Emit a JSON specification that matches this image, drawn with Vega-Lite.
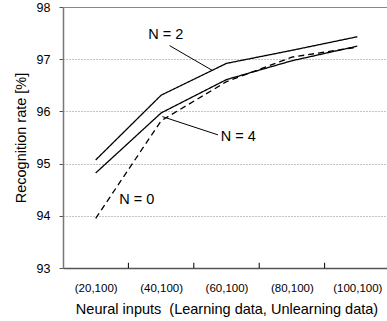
{
  "$schema": "https://vega.github.io/schema/vega-lite/v6.json",
  "width": 327,
  "height": 261,
  "autosize": {"type": "none"},
  "padding": {"left": 63, "top": 7, "right": 0, "bottom": 53},
  "background": "white",
  "config": {"view": {"stroke": null}, "font": "Liberation Sans"},
  "encoding": {
    "x": {
      "field": "inputs", "type": "quantitative",
      "scale": {"domain": [10, 110], "nice": false, "zero": false},
      "axis": {
        "values": [10, 20, 30, 40, 50, 60, 70, 80, 90, 100, 110],
        "labelExpr": "datum.value % 20 == 0 ? '(' + datum.value + ',100)' : ''",
        "tickOpacity": 0,
        "tickColor": "#333",
        "tickSize": -5,
        "domainColor": "#555",
        "domainWidth": 1.5,
        "grid": false,
        "labelFontSize": 11.5,
        "labelColor": "#000",
        "labelPadding": 19,
        "labelOverlap": false,
        "labelFlush": false,
        "labelBound": false,
        "title": "Neural inputs\u00a0\u00a0(Learning data, Unlearning data)",
        "titleFontSize": 14.5,
        "titleFontWeight": "normal",
        "titleColor": "#000",
        "titlePadding": 9
      }
    },
    "y": {
      "field": "rate", "type": "quantitative",
      "scale": {"domain": [93, 98], "nice": false, "zero": false},
      "axis": {
        "values": [93, 94, 95, 96, 97, 98],
        "grid": true,
        "gridDash": {"condition": {"test": "datum.value == 98", "value": []}, "value": [1, 2]},
        "gridColor": "#888",
        "gridWidth": 1,
        "domainColor": "#777",
        "domainWidth": 1.5,
        "tickSize": 4,
        "tickColor": "#555",
        "labelFontSize": 12.5,
        "labelColor": "#000",
        "labelPadding": 9,
        "title": "Recognition rate [%]",
        "titleFontSize": 14.5,
        "titleFontWeight": "normal",
        "titleColor": "#000",
        "titlePadding": 8
      }
    }
  },
  "layer": [
    {
      "data": {"values": [
        {"series": "N = 2", "inputs": 20, "rate": 95.07},
        {"series": "N = 2", "inputs": 40, "rate": 96.31},
        {"series": "N = 2", "inputs": 60, "rate": 96.92},
        {"series": "N = 2", "inputs": 80, "rate": 97.17},
        {"series": "N = 2", "inputs": 100, "rate": 97.43},
        {"series": "N = 4", "inputs": 20, "rate": 94.82},
        {"series": "N = 4", "inputs": 40, "rate": 95.97},
        {"series": "N = 4", "inputs": 60, "rate": 96.61},
        {"series": "N = 4", "inputs": 80, "rate": 96.97},
        {"series": "N = 4", "inputs": 100, "rate": 97.25},
        {"series": "N = 0", "inputs": 20, "rate": 93.95},
        {"series": "N = 0", "inputs": 40, "rate": 95.82},
        {"series": "N = 0", "inputs": 60, "rate": 96.57},
        {"series": "N = 0", "inputs": 80, "rate": 97.04},
        {"series": "N = 0", "inputs": 100, "rate": 97.23}
      ]},
      "mark": {"type": "line", "color": "black"},
      "encoding": {
        "detail": {"field": "series"},
        "strokeDash": {
          "field": "series", "type": "nominal",
          "scale": {"domain": ["N = 2", "N = 4", "N = 0"], "range": [[1, 0], [1, 0], [6, 4]]},
          "legend": null
        },
        "strokeWidth": {
          "field": "series", "type": "nominal",
          "scale": {"domain": ["N = 2", "N = 4", "N = 0"], "range": [1.3, 1.3, 1.8]},
          "legend": null
        }
      }
    },
    {
      "data": {"values": [
        {"inputs": 42.6, "rate": 97.26, "inputs_end": 55.8, "rate_end": 96.78},
        {"inputs": 40.4, "rate": 95.90, "inputs_end": 57.4, "rate_end": 95.55},
        {"inputs": 30, "rate": 93, "inputs_end": 30, "rate_end": 93.1},
        {"inputs": 50, "rate": 93, "inputs_end": 50, "rate_end": 93.1},
        {"inputs": 70, "rate": 93, "inputs_end": 70, "rate_end": 93.1},
        {"inputs": 90, "rate": 93, "inputs_end": 90, "rate_end": 93.1}
      ]},
      "mark": {"type": "rule", "color": "black", "strokeWidth": 1},
      "encoding": {
        "x2": {"field": "inputs_end"},
        "y2": {"field": "rate_end"}
      }
    },
    {
      "data": {"values": [
        {"label": "N = 2", "inputs": 41.4, "rate": 97.47},
        {"label": "N = 4", "inputs": 63.6, "rate": 95.51},
        {"label": "N = 0", "inputs": 32.6, "rate": 94.31}
      ]},
      "mark": {"type": "text", "fontSize": 14.5, "color": "black", "align": "center", "baseline": "middle"},
      "encoding": {
        "text": {"field": "label"}
      }
    }
  ]
}
